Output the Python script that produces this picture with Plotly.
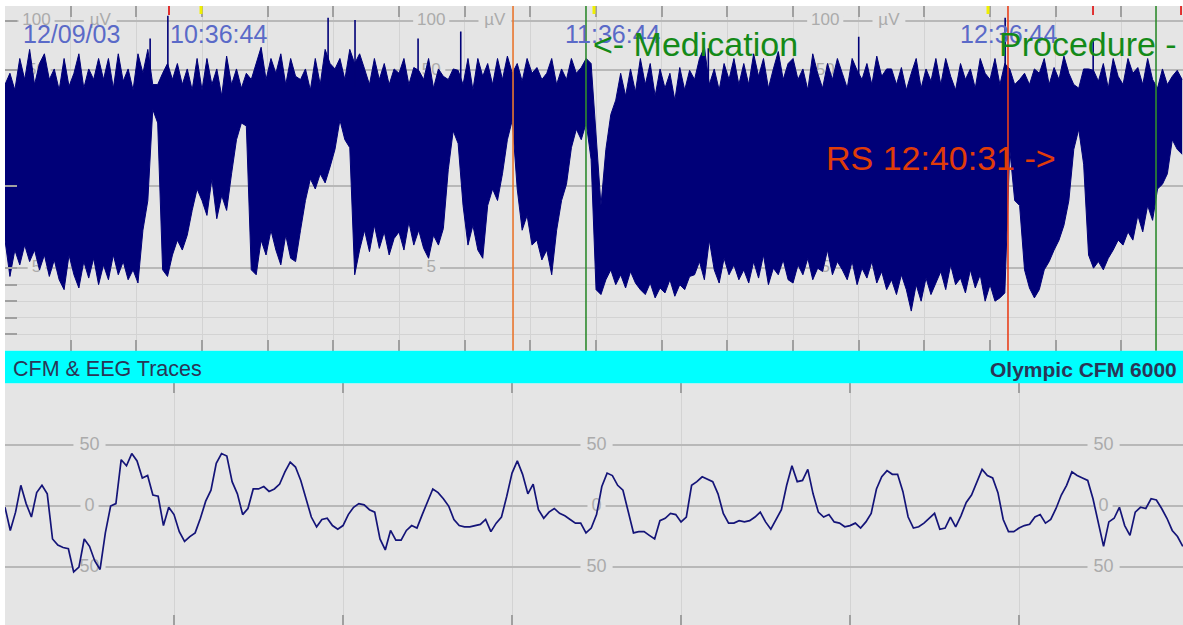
import numpy as np
import plotly.graph_objects as go

FONT = "Liberation Sans, Arial, sans-serif"
BG = "#e5e5e5"
NAVY = "#000078"

# ---------------- CFM (aEEG) trace: upper / lower margin in µV, one sample every 45 s ----------------
cfm_step_min = 0.75
cfm_upper_uv = [
    41, 48, 38, 59, 44, 67, 41, 55, 63, 44,
    51, 38, 59, 40, 48, 63, 39, 51, 44, 59,
    44, 59, 39, 63, 43, 51, 38, 63, 48, 67,
    41, 41, 48, 55, 44, 55, 41, 51, 38, 59,
    38, 59, 41, 51, 35, 61, 41, 51, 39, 48,
    44, 55, 69, 44, 59, 48, 63, 41, 59, 46,
    44, 51, 38, 59, 41, 67, 55, 51, 59, 44,
    67, 55, 63, 51, 41, 59, 44, 55, 41, 51,
    48, 59, 41, 52, 50, 44, 59, 39, 51, 46,
    44, 51, 50, 41, 59, 38, 59, 46, 55, 41,
    59, 44, 61, 48, 55, 43, 59, 48, 52, 44,
    48, 59, 41, 51, 44, 59, 48, 52, 59, 55,
    19, 8.8, 16.6, 27, 33, 48, 35, 51, 37, 59,
    41, 55, 35, 51, 39, 48, 33, 52, 38, 50,
    44, 59, 69, 41, 51, 38, 55, 44, 59, 41,
    55, 41, 63, 46, 59, 39, 51, 65, 44, 55,
    59, 44, 51, 38, 63, 48, 39, 55, 44, 59,
    48, 39, 59, 50, 44, 55, 41, 61, 46, 51,
    51, 41, 52, 38, 48, 59, 39, 51, 43, 59,
    41, 59, 46, 38, 55, 44, 51, 39, 59, 48,
    44, 59, 41, 55, 51, 41, 44, 48, 41, 51,
    48, 59, 41, 52, 44, 61, 48, 41, 39, 51,
    51, 50, 43, 55, 39, 59, 46, 41, 59, 48,
    52, 41, 59, 44, 39, 51, 41, 46, 50, 44,
]
cfm_lower_uv = [
    6.7, 4.5, 6.1, 5.2, 6.4, 5.4, 6.1, 4.9, 5.8, 4.5,
    5.5, 4.3, 3.7, 5.8, 4.6, 3.8, 5.4, 4.4, 5.6, 4.0,
    5.2, 4.3, 5.8, 4.6, 5.4, 4.3, 4.9, 4.1, 7.3, 9.1,
    29, 24, 4.9, 4.5, 5.8, 6.7, 6.1, 7.0, 8.5, 9.8,
    9.1, 8.2, 11, 8.0, 9.4, 8.5, 11.8, 19, 24, 23,
    4.9, 4.6, 6.7, 5.8, 7.3, 6.1, 5.2, 7.0, 5.6, 5.4,
    7.3, 9.1, 11, 9.8, 11.8, 10.4, 13, 16.6, 25, 19,
    17, 4.6, 6.1, 7.3, 6.0, 7.6, 6.2, 7.2, 5.8, 6.8,
    7.2, 6.1, 7.8, 6.4, 7.3, 6.2, 5.6, 7.0, 6.4, 7.4,
    12.5, 21.5, 18, 8.8, 6.4, 7.6, 6.1, 5.6, 8.8, 9.8,
    9.1, 11.8, 19, 25, 9.8, 7.3, 8.2, 6.4, 6.7, 5.5,
    6.1, 4.6, 7.3, 9.1, 10.2, 17, 22, 19, 24, 14.4,
    3.7, 3.4, 4.3, 4.9, 4.0, 4.6, 3.8, 4.8, 4.1, 3.7,
    3.4, 4.1, 3.2, 3.8, 3.5, 4.3, 3.3, 4.0, 3.7, 4.5,
    4.6, 5.4, 4.3, 6.7, 4.9, 4.1, 5.6, 4.6, 5.2, 4.3,
    4.9, 4.1, 5.4, 4.4, 5.8, 4.0, 5.0, 4.6, 5.5, 4.3,
    4.1, 5.2, 4.6, 5.6, 4.3, 5.0, 4.8, 6.1, 4.6, 5.4,
    4.9, 4.3, 5.4, 4.0, 5.0, 4.4, 5.4, 4.1, 4.8, 3.7,
    4.3, 3.4, 4.6, 3.7, 2.4, 4.0, 3.0, 4.4, 3.4, 4.1,
    4.8, 3.7, 5.2, 4.0, 4.4, 3.5, 4.9, 3.8, 4.6, 3.0,
    4.0, 3.0, 3.2, 3.5, 16.6, 9.1, 8.8, 4.9, 3.8, 3.2,
    3.7, 4.9, 5.4, 6.1, 6.7, 7.6, 9.1, 16.6, 22, 13.5,
    5.8, 5.0, 5.4, 4.9, 5.6, 6.1, 6.7, 6.4, 7.2, 6.7,
    8.2, 7.2, 8.8, 7.9, 9.8, 10.2, 11.8, 19, 16.6, 15.5,
]
# isolated tall spikes (minutes from left edge, peak µV)
cfm_spike_min = [22.1, 24.8, 49.2, 53.3, 62.9, 69.4, 107.1, 130.0, 152.3, 165.7]
cfm_spike_uv = [78, 107, 104, 101, 78, 86, 68, 80, 104, 78]
cfm_spike_base_uv = 40

# ---------------- raw EEG trace, µV, 32 samples per second ----------------
eeg_rate_hz = 32
eeg_uv = [
    -1, -20, -5, 17, 2, -9, 11, 17, 10, -27,
    -32, -34, -35, -54, -50, -27, -33, -45, -52, -22,
    0, 2, 38, 33, 43, 37, 23, 25, 9, 8,
    -16, -1, -7, -21, -29, -25, -22, -10, 4, 13,
    35, 43, 41, 20, 10, -7, -2, 14, 14, 16,
    12, 14, 18, 28, 36, 32, 21, 5, -9, -17,
    -11, -10, -16, -19, -16, -7, -1, 2, 1, -3,
    -5, -27, -36, -20, -28, -28, -20, -16, -18, -7,
    4, 14, 11, 6, 0, -11, -16, -17, -17, -16,
    -15, -11, -21, -14, -9, 8, 27, 37, 26, 10,
    18, -3, -10, -5, -2, -6, -8, -11, -14, -14,
    -22, -18, -7, 16, 27, 25, 17, 13, -5, -22,
    -21, -21, -24, -27, -12, -10, -6, -7, -13, -9,
    17, 20, 24, 22, 20, 10, -6, -14, -14, -12,
    -13, -12, -9, -5, -13, -19, -11, -3, 17, 33,
    20, 21, 30, 10, -5, -9, -7, -13, -14, -17,
    -16, -14, -18, -13, -6, 14, 24, 29, 26, 26,
    12, -9, -18, -17, -14, -10, -6, -19, -18, -9,
    -17, -8, 3, 9, 20, 30, 25, 23, 11, -11,
    -21, -21, -18, -16, -15, -9, -7, -14, -11, -2,
    9, 17, 28, 25, 23, 21, 6, -13, -33, -13,
    -10, -1, -16, -24, -5, -1, -2, 6, 5, -2,
    -10, -20, -25, -33,
]

# ---------------- events / labels on the CFM time axis (minutes from left edge) ----------------
cfm_span_min = 179.38
event_line_min = [77.36, 88.47, 152.73, 175.27]
event_line_color = ["#e8762e", "#2e8b2e", "#e8401c", "#2e8b2e"]
marker_tick_min = [24.97, 29.85, 89.69, 149.69, 165.68, 179.08]
marker_tick_color = ["#e03030", "#f0f000", "#f0f000", "#f0f000", "#e03030", "#e03030"]

date_label = "12/09/03"
date_label_min = 2.45
clock_labels = ["10:36:44", "11:36:44", "12:36:44"]
clock_label_min = [24.8, 85.0, 145.1]
clock_label_uv = 83

event_texts = ["<- Medication", "RS 12:40:31 ->", "Procedure - Start"]
event_text_min = [89.2, 124.7, 151.1]
event_text_uv = [72, 14.7, 72]
event_text_color = ["#148a18", "#e03c08", "#148a18"]
event_text_size = [34, 34, 34]

# scale labels repeated along the traces
cfm_scale_label_min = [4.8, 64.9, 124.9]
cfm_unit_offset_min = 9.7
cfm_scale_uv = [100, 50, 5]
cfm_scale_text = ["100", "50", "5"]
eeg_scale_label_s = [0.5, 3.5, 6.5]
eeg_scale_uv = [50, 0, -50]
eeg_scale_text = ["50", "0", "50"]

cfm_grid_major_uv = [5, 10, 50, 100]
cfm_grid_minor_uv = [1, 2, 3, 4]


def aeeg(v):
    """Semi-logarithmic aEEG scale: linear 0-10 µV, logarithmic 10-100 µV."""
    v = np.asarray(v, dtype=float)
    return np.where(v <= 10, v, 10 + 10 * np.log10(np.clip(v, 10, None) / 10))


cfm_t = np.arange(len(cfm_upper_uv)) * cfm_step_min
eeg_t = np.arange(len(eeg_uv)) / eeg_rate_hz

fig = go.Figure()

# scale labels (drawn below the traces)
lx, ly, lt = [], [], []
for t0 in cfm_scale_label_min:
    for v, s in zip(cfm_scale_uv, cfm_scale_text):
        lx.append(t0); ly.append(float(aeeg(v))); lt.append(s)
    lx.append(t0 + cfm_unit_offset_min); ly.append(float(aeeg(100))); lt.append("µV")
fig.add_trace(go.Scatter(x=lx, y=ly, text=lt, mode="text", textposition="middle center",
                         textfont=dict(family=FONT, size=17, color="#ababab"),
                         hoverinfo="skip", xaxis="x", yaxis="y"))

fig.add_trace(go.Scatter(x=cfm_t, y=aeeg(cfm_lower_uv), mode="lines",
                         line=dict(color=NAVY, width=1), xaxis="x", yaxis="y"))
fig.add_trace(go.Scatter(x=cfm_t, y=aeeg(cfm_upper_uv), mode="lines", fill="tonexty",
                         fillcolor=NAVY, line=dict(color=NAVY, width=1),
                         xaxis="x", yaxis="y"))
sx, sy = [], []
for t, v in zip(cfm_spike_min, cfm_spike_uv):
    sx += [t, t, None]
    sy += [float(aeeg(cfm_spike_base_uv)), float(aeeg(v)), None]
fig.add_trace(go.Scatter(x=sx, y=sy, mode="lines", line=dict(color=NAVY, width=1.6),
                         xaxis="x", yaxis="y"))

bx, by, bt = [], [], []
for t0 in eeg_scale_label_s:
    for v, s in zip(eeg_scale_uv, eeg_scale_text):
        bx.append(t0); by.append(v); bt.append(s)
fig.add_trace(go.Scatter(x=bx, y=by, text=bt, mode="text", textposition="middle center",
                         textfont=dict(family=FONT, size=18, color="#ababab"),
                         hoverinfo="skip", xaxis="x2", yaxis="y2"))

fig.add_trace(go.Scatter(x=eeg_t, y=eeg_uv, mode="lines",
                         line=dict(color="#141478", width=1.7), xaxis="x2", yaxis="y2"))

shapes = []
# gaps in the grid lines behind the scale labels
for t0 in cfm_scale_label_min:
    for v, w in zip(cfm_scale_uv, [5.5, 4.3, 2.7]):
        u = float(aeeg(v))
        shapes.append(dict(type="rect", xref="x", yref="y", x0=t0 - w / 2, x1=t0 + w / 2,
                           y0=u - 0.25, y1=u + 0.25, fillcolor=BG, line=dict(width=0),
                           layer="between"))
    tu = t0 + cfm_unit_offset_min
    shapes.append(dict(type="rect", xref="x", yref="y", x0=tu - 2.5, x1=tu + 2.5,
                       y0=19.75, y1=20.25, fillcolor=BG, line=dict(width=0), layer="between"))
for t0 in eeg_scale_label_s:
    for v, w in zip(eeg_scale_uv, [0.19, 0.107, 0.19]):
        shapes.append(dict(type="rect", xref="x2", yref="y2", x0=t0 - w / 2, x1=t0 + w / 2,
                           y0=v - 3, y1=v + 3, fillcolor=BG, line=dict(width=0),
                           layer="between"))

# event lines across the CFM panel
for t0, c in zip(event_line_min, event_line_color):
    shapes.append(dict(type="line", xref="x", yref="y domain", x0=t0, x1=t0, y0=0, y1=1,
                       line=dict(color=c, width=1.6)))
# small coloured marks at the top edge
for t0, c in zip(marker_tick_min, marker_tick_color):
    yellow = c.lower().startswith("#f0")
    shapes.append(dict(type="line", xref="x", yref="y domain", x0=t0, x1=t0,
                       y0=1 - (8 if yellow else 9) / 344.7, y1=1,
                       line=dict(color=c, width=3 if yellow else 2)))
# cyan title band
shapes.append(dict(type="rect", xref="paper", yref="paper", x0=5 / 1183, x1=1,
                   y0=0.3867, y1=0.4389, fillcolor="#00ffff", line=dict(width=0)))

annotations = []
annotations.append(dict(text=date_label, x=date_label_min, y=float(aeeg(clock_label_uv)),
                        xref="x", yref="y", xanchor="left", yanchor="middle", showarrow=False,
                        font=dict(family=FONT, size=25, color="#5a6ac8")))
for s, t0 in zip(clock_labels, clock_label_min):
    annotations.append(dict(text=s, x=t0, y=float(aeeg(clock_label_uv)), xref="x", yref="y",
                            xanchor="left", yanchor="middle", showarrow=False,
                            font=dict(family=FONT, size=25, color="#5a6ac8")))
for s, t0, v, c, fs in zip(event_texts, event_text_min, event_text_uv, event_text_color,
                           event_text_size):
    annotations.append(dict(text=s, x=t0, y=float(aeeg(v)), xref="x", yref="y",
                            xanchor="left", yanchor="middle", showarrow=False,
                            font=dict(family=FONT, size=fs, color=c)))
annotations.append(dict(text="CFM & EEG Traces", x=11 / 1183, y=0.4096, xref="paper",
                        yref="paper", xanchor="left", yanchor="middle", showarrow=False,
                        font=dict(family=FONT, size=21.5, color="#2b3556")))
annotations.append(dict(text="<b>Olympic CFM 6000</b>", x=1179 / 1183, y=0.4096,
                        xref="paper", yref="paper", xanchor="right", yanchor="middle",
                        showarrow=False, font=dict(family=FONT, size=21, color="#2b3556")))

tick_col = "#a0a0a0"
fig.update_layout(
    width=1183, height=625, margin=dict(l=0, r=0, t=0, b=0),
    paper_bgcolor="white", plot_bgcolor=BG, showlegend=False,
    shapes=shapes, annotations=annotations,
    xaxis=dict(domain=[5 / 1183, 1], range=[0, cfm_span_min], tick0=0, dtick=10,
               showgrid=True, gridcolor="#d3d3d3", gridwidth=1.3,
               ticks="inside", ticklen=11, tickcolor=tick_col, tickwidth=1.5,
               mirror="ticks", showline=False, showticklabels=False, zeroline=False,
               anchor="y"),
    yaxis=dict(domain=[0.4389, 0.9904], range=[0, 20.89], tickmode="array",
               tickvals=list(aeeg(cfm_grid_major_uv)), showgrid=True, gridcolor="#b8b8b8",
               gridwidth=1.5, ticks="inside", ticklen=12, tickcolor=tick_col, tickwidth=1.5,
               minor=dict(tickmode="array", tickvals=list(aeeg(cfm_grid_minor_uv)),
                          showgrid=True, gridcolor="#d3d3d3", gridwidth=1.3,
                          ticks="inside", ticklen=12, tickcolor=tick_col, tickwidth=1.5),
               showticklabels=False, zeroline=False, showline=False, anchor="x"),
    xaxis2=dict(domain=[5 / 1183, 1], range=[0, 6.97], tick0=0, dtick=1,
                showgrid=True, gridcolor="#d3d3d3", gridwidth=1.3,
                ticks="inside", ticklen=10, tickcolor=tick_col, tickwidth=1.5,
                mirror="ticks", showline=False, showticklabels=False, zeroline=False,
                anchor="y2"),
    yaxis2=dict(domain=[0, 0.3867], range=[-97.5, 100.6], tickmode="array",
                tickvals=eeg_scale_uv, showgrid=True, gridcolor="#b8b8b8", gridwidth=1.5,
                ticks="", showticklabels=False, zeroline=False, showline=False, anchor="x2"),
)

fig.write_html("out.html")
